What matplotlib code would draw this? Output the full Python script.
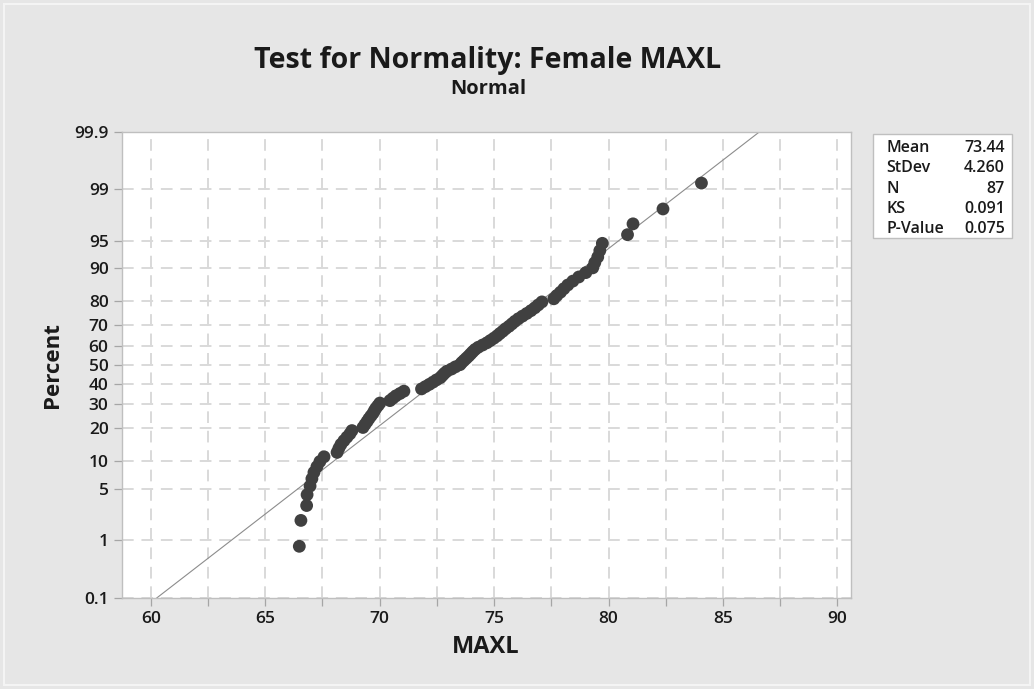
import matplotlib
matplotlib.use("Agg")
import matplotlib.pyplot as plt
from matplotlib.patches import Rectangle
from statistics import NormalDist

# ---- data (sorted MAXL values) ----
maxl = [66.49, 66.56, 66.81, 66.83, 66.96, 67.04, 67.13, 67.26, 67.39, 67.57,
        68.14, 68.22, 68.31, 68.44, 68.57, 68.70, 68.79, 69.27, 69.36, 69.45,
        69.53, 69.62, 69.71, 69.77, 69.84, 69.93, 70.01, 70.45, 70.58, 70.71,
        70.89, 71.06, 71.83, 72.00, 72.17, 72.33, 72.48, 72.65, 72.74, 72.83,
        72.94, 73.14, 73.31, 73.51, 73.59, 73.69, 73.79, 73.89, 73.98, 74.07,
        74.17, 74.31, 74.50, 74.69, 74.84, 74.99, 75.13, 75.25, 75.38, 75.50,
        75.65, 75.78, 75.91, 76.06, 76.24, 76.43, 76.61, 76.78, 76.93, 77.09,
        77.61, 77.74, 77.90, 78.05, 78.22, 78.44, 78.70, 79.01, 79.31, 79.40,
        79.53, 79.62, 79.73, 80.83, 81.07, 82.38, 84.06]
mean_val = 73.44
sd_val = 4.260
stat_labels = ["Mean", "StDev", "N", "KS", "P-Value"]
stat_values = ["73.44", "4.260", "87", "0.091", "0.075"]
y_ticks_pct = [0.1, 1, 5, 10, 20, 30, 40, 50, 60, 70, 80, 90, 95, 99, 99.9]
y_tick_labels = ["0.1", "1", "5", "10", "20", "30", "40", "50", "60", "70", "80", "90", "95", "99", "99.9"]
x_ticks = [60, 65, 70, 75, 80, 85, 90]
x_minor = [62.5, 67.5, 72.5, 77.5, 82.5, 87.5]

nd = NormalDist()
n = len(maxl)
pct = [(i + 1 - 0.3) / (n + 0.4) for i in range(n)]
zs = [nd.inv_cdf(p) for p in pct]

plt.rcParams['font.family'] = ['Open Sans', 'DejaVu Sans']
txt = '#1a1a1a'

fig = plt.figure(figsize=(10.34, 6.89), dpi=100)
bg = '#e6e6e6'
fig.patch.set_facecolor(bg)
fig.patches.append(Rectangle((0.004, 0.006), 0.992, 0.988, transform=fig.transFigure,
                             fill=False, edgecolor='#f4f4f4', linewidth=1.5))

ax = fig.add_axes([0.1177, 0.1325, 0.7050, 0.6764])
ax.set_facecolor('white')

zlo = nd.inv_cdf(0.001)
zhi = nd.inv_cdf(0.999)
ax.set_ylim(zlo, zhi)
ax.set_xlim(58.73, 90.58)

grid_kw = dict(color='#d9d9d9', linewidth=1.4, linestyle=(0, (6, 4)), zorder=1)
for x in x_ticks + x_minor:
    ax.axvline(x, **grid_kw)
yt = [nd.inv_cdf(p / 100) for p in y_ticks_pct]
for y in yt:
    ax.axhline(y, **grid_kw)

# fitted line
zl = [zlo - 0.2, zhi + 0.2]
xl = [mean_val + sd_val * z for z in zl]
ax.plot(xl, zl, color='#8c8c8c', linewidth=0.8, zorder=2)

ax.scatter(maxl, zs, s=85, color='#404040', edgecolors='none', zorder=3)

ax.set_yticks(yt)
ax.set_yticklabels(y_tick_labels)
ax.set_xticks(x_ticks)
ax.set_xticks(x_minor, minor=True)
ax.tick_params(axis='both', which='both', color='#a6a6a6', length=6, width=0.9,
               labelsize=12.5, labelcolor=txt)
for lab in ax.get_xticklabels() + ax.get_yticklabels():
    lab.set_fontweight('semibold')
for s in ax.spines.values():
    s.set_color('#bfbfbf')
    s.set_linewidth(1.0)

ax.set_xlabel("MAXL", fontsize=17, color=txt, labelpad=6, fontweight='bold')
ax.set_ylabel("Percent", fontsize=16, color=txt, labelpad=8, fontweight='bold')

fig.text(0.472, 0.912, "Test for Normality: Female MAXL", ha='center', va='center',
         fontsize=20.5, fontweight='bold', color=txt)
fig.text(0.472, 0.871, "Normal", ha='center', va='center',
         fontsize=14.5, fontweight='bold', color=txt)

# stats box
bx0, by0 = 873 / 1034, 1 - 238 / 689
bw, bh = (1012 - 873) / 1034, (238 - 134) / 689
fig.patches.append(Rectangle((bx0, by0), bw, bh, transform=fig.transFigure,
                             facecolor='white', edgecolor='#bfbfbf', linewidth=1.0))
for k, (lab, val) in enumerate(zip(stat_labels, stat_values)):
    yy = 1 - (148 + 20.3 * k) / 689
    fig.text(886 / 1034, yy, lab, ha='left', va='center', fontsize=11.5,
             fontweight='semibold', color=txt)
    fig.text(1005 / 1034, yy, val, ha='right', va='center', fontsize=11.5,
             fontweight='semibold', color=txt)

fig.savefig("out.png", dpi=100, facecolor=bg)
